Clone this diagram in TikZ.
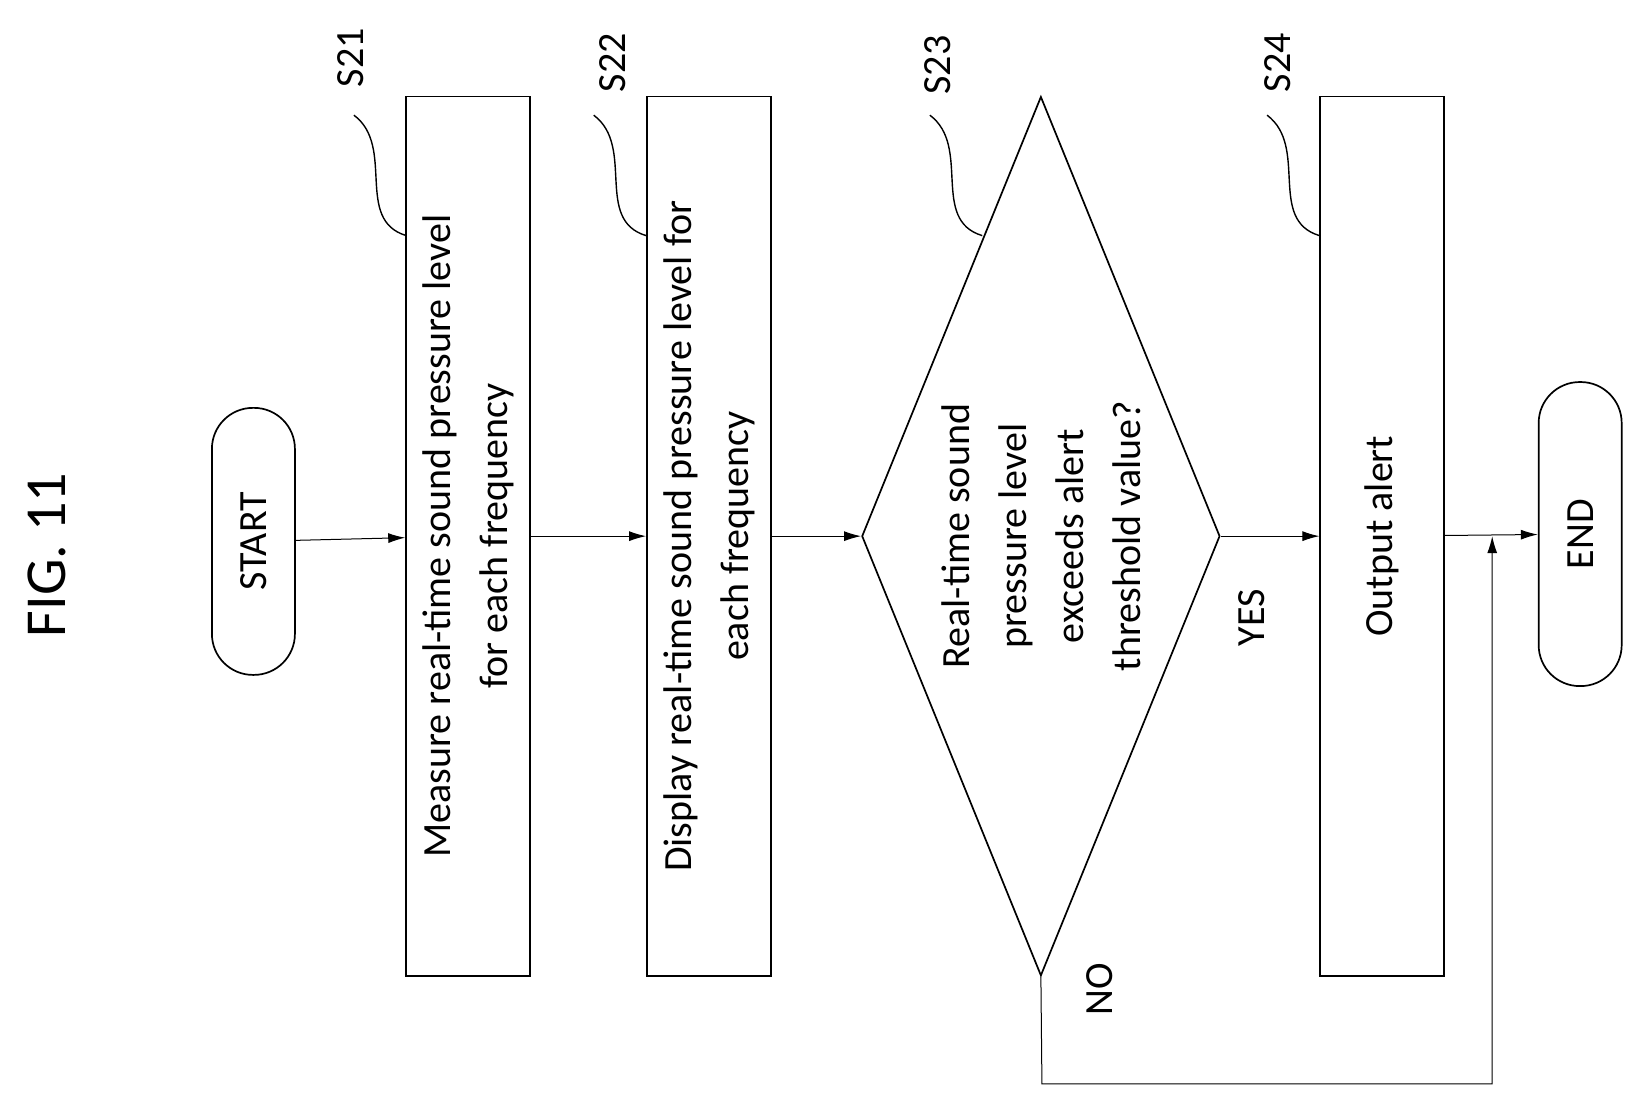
\documentclass[tikz,border=0pt]{standalone}
\usepackage{fontspec}
\setmainfont{Carlito}
\usetikzlibrary{shapes.geometric,arrows.meta}

\begin{document}
\begin{tikzpicture}[x=1.047pt, y=-1.047pt, font=\fontsize{40}{57}\selectfont,
  Step/.style={draw, line width=1.7pt, rotate=90, minimum width=879pt, minimum height=124pt, align=center},
  Term/.style={draw, line width=1.7pt, rotate=90, minimum height=83pt, rounded corners=41pt, align=center},
  Flow/.style={-{Latex[length=17pt,width=10pt]}, line width=1pt},
  Leader/.style={line width=1.4pt}]
\useasboundingbox (0,0) rectangle (1569,1063);

\node [rotate=90, font=\fontsize{58}{62}\selectfont] (fig) at (45,530) {FIG. 11};

\node [Term, minimum width=267pt] (start) at (242,517) {START};
\node [Step] (s21) at (447,512) {Measure real-time sound pressure level\\for each frequency};
\node [Step] (s22) at (677,512) {Display real-time sound pressure level for\\each frequency};
\node [draw, diamond, line width=1.7pt, minimum width=358pt, minimum height=879pt, inner sep=0pt] (s23) at (994,512) {};
\node [rotate=90, align=center] (s23text) at (994,512) {Real-time sound\\pressure level\\exceeds alert\\threshold value?};
\node [Step] (s24) at (1320,512) {Output alert};
\node [Term, minimum width=304pt] (end) at (1509,510) {END};

\coordinate (merge) at (1425,512);
\coordinate (nocorner) at (995,1035);
\coordinate (mergelow) at (1425,1035);

% step labels
\foreach \name/\x/\lx/\ly in {s21/388/335/55, s22/617/585/60, s23/938/895/62, s24/1260/1220/60} {
  \node [rotate=90] (l\name) at (\lx,\ly) {\MakeUppercase{\name}};
  \draw [Leader] (\x,225) .. controls +(-50,-15) and +(40,30) .. +(-50,-115);
}

\draw [Flow] (start) -- (s21);
\draw [Flow] (s21) -- (s22);
\draw [Flow] (s22) -- (s23.west);
\draw [Flow] (s23.east) -- (s24);
\node [rotate=90] (yes) at (1195,590) {YES};
\draw [Flow] (s24) -- (end);
\draw [Flow] (s23.south) -- (nocorner) -- (mergelow) -- (merge);
\node [rotate=90] (no) at (1050,945) {NO};
\end{tikzpicture}
\end{document}
